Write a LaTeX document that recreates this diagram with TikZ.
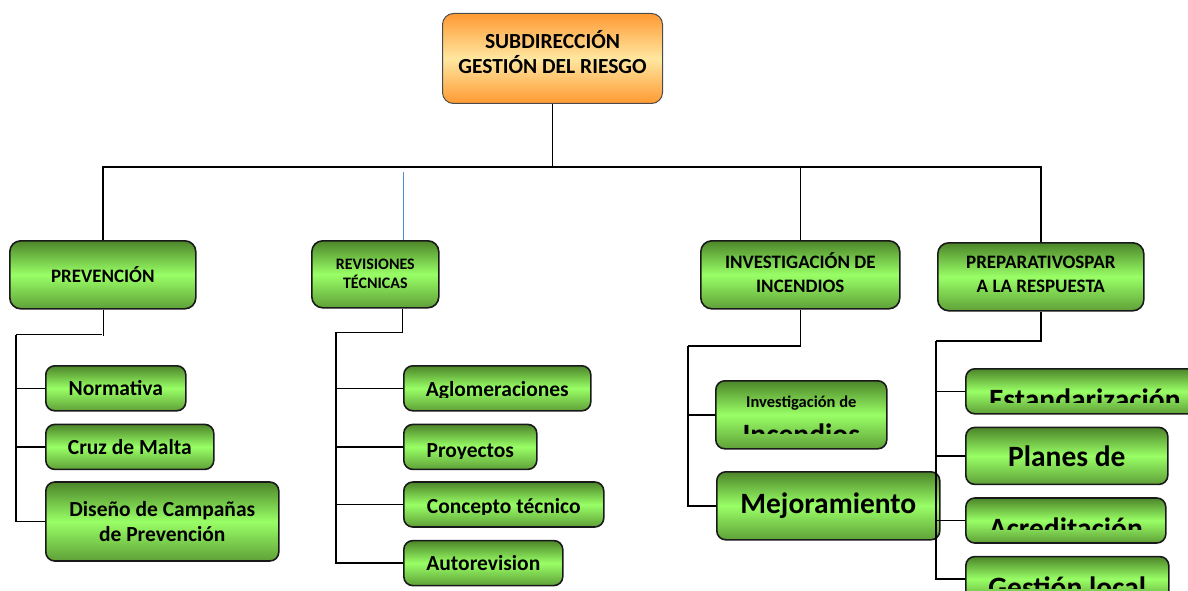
\documentclass[tikz,border=0pt]{standalone}
\usepackage{fontspec}
\setmainfont{Carlito}
\usetikzlibrary{positioning}
\definecolor{gdark}{HTML}{4C8529}
\definecolor{glight}{HTML}{99FF66}
\definecolor{gbot}{HTML}{5FA038}
\definecolor{odark}{HTML}{FF9A33}
\definecolor{olight}{HTML}{FFE7A0}
\definecolor{bluelink}{HTML}{4A90D9}

\begin{document}
\begin{tikzpicture}[x=1pt, y=-1pt,
  box/.style={draw=black!90, line width=1.6pt, rounded corners=11pt, top color=gdark, bottom color=gbot, middle color=glight, align=center, inner sep=0pt, anchor=north west},
  chief/.style={box, draw=black!70, line width=1pt, top color=odark, bottom color=odark, middle color=olight, minimum width=220pt, minimum height=90pt, font=\bfseries\fontsize{21.5}{25}\selectfont},
  head/.style={box, minimum height=68pt, font=\bfseries\fontsize{19}{24}\selectfont},
  leaf/.style={box, minimum height=45pt, rounded corners=9pt, font=\bfseries\fontsize{21.5}{25}\selectfont},
  big/.style={font=\bfseries\fontsize{29.5}{34}\selectfont},
  cut/.style n args={4}{path picture={
    \clip[sharp corners] (path picture bounding box.north west) rectangle ([yshift=#1pt]path picture bounding box.south east);
    \node[draw=none, inner sep=0pt, anchor=base, text=black, font=\bfseries\fontsize{#3}{#3}\selectfont] at ([yshift=#2pt]path picture bounding box.south) {#4};}},
  wire/.style={line width=1.6pt},
  twin/.style={line width=0.8pt, double, double distance=0.8pt},
  link/.style={bluelink, line width=0.8pt}]
  \clip (0,0) rectangle (1188,591);
  % top of the chart
  \node[chief] (top) at (442,13) {SUBDIRECCIÓN\\GESTIÓN DEL RIESGO\rule[-14pt]{0pt}{0pt}};
  \node[head, minimum width=186pt] (prev) at (9,240) {PREVENCIÓN};
  \node[head, minimum width=127pt, minimum height=67pt, font=\bfseries\fontsize{16}{19}\selectfont] (revis) at (311,240) {REVISIONES\\TÉCNICAS};
  \node[head, minimum width=199pt] (inves) at (700,240) {INVESTIGACIÓN DE\\INCENDIOS\rule[-5pt]{0pt}{0pt}};
  \node[head, minimum width=206pt] (prep) at (937,242) {PREPARATIVOSPAR\\A LA RESPUESTA\rule[-5pt]{0pt}{0pt}};
  % prevencion
  \node[leaf, minimum width=140pt] (norm) at (45,365) {Normativa};
  \node[leaf, minimum width=168pt, below=12pt of norm.south west, anchor=north west] (cruz) {Cruz de Malta};
  \node[leaf, minimum width=233pt, minimum height=79pt, below=11pt of cruz.south west, anchor=north west] (camp) {Diseño de Campañas\\de Prevención};
  % revisiones
  \node[leaf, minimum width=187pt, cut={13}{14}{21.5}{Aglomeraciones}] (aglo) at (403,365) {};
  \node[leaf, minimum width=133pt, cut={11}{12}{21.5}{Proyectos}, below=12pt of aglo.south west, anchor=north west] (proy) {};
  \node[leaf, minimum width=200pt, cut={13}{14}{21.5}{Concepto técnico}, below=11pt of proy.south west, anchor=north west] (conc) {};
  \node[leaf, minimum width=159pt, below=12pt of conc.south west, anchor=north west] (auto) {Autorevision};
  % investigacion
  \node[leaf, minimum width=171pt, minimum height=68pt, cut={15}{4}{29.5}{\begin{tabular}[b]{@{}c@{}}{\fontsize{16.5}{16.5}\selectfont Investigación de}\\[8pt]Incendios\end{tabular}}] (invi) at (715,380) {};
  \node[leaf, big, minimum width=223pt, minimum height=68pt] (mejo) at (716,471) {Mejoramiento};
  % preparativos
  \node[leaf, minimum width=238pt, cut={11}{4}{29.5}{Estandarización}] (esta) at (965,368) {};
  \node[leaf, big, minimum width=202pt, minimum height=57pt, below=12pt of esta.south west, anchor=north west] (plan) {Planes de};
  \node[leaf, minimum width=200pt, cut={14}{5}{29.5}{Acreditación}, below=12pt of plan.south west, anchor=north west] (acre) {};
  \node[leaf, minimum width=203pt, cut={13}{4}{29.5}{Gestión local}, below=12pt of acre.south west, anchor=north west] (gest) {};
  % connectors
  \coordinate (hub) at (555,167);
  \coordinate (rtap) at (403,172);
  \draw[wire] (top.south) -- (top.south |- hub);
  \draw[wire] (prev.north) |- (prep.north |- hub) -- (prep.north);
  \draw[wire] (inves.north) -- (inves.north |- hub);
  \draw[link] (rtap) -- (rtap |- revis.north);
  \coordinate (pspine) at (16,335);
  \draw[twin] (prev.south) |- (pspine);
  \foreach \c in {norm,cruz,camp}
    \draw[wire, line width=1.3pt] (pspine) |- (\c.west);
  \coordinate (rspine) at (336,333);
  \draw[twin] (rtap |- revis.south) |- (rspine) -- (rspine |- aglo.west);
  \foreach \c in {aglo,proy,conc,auto}
    \draw[wire, line width=1.3pt] (rspine) |- (\c.west);
  \coordinate (ispine) at (688,346);
  \draw[wire] (inves.south) |- (ispine);
  \foreach \c in {invi,mejo}
    \draw[wire] (ispine) |- (\c.west);
  \coordinate (qspine) at (936,341);
  \draw[wire] (prep.south) |- (qspine);
  \foreach \c in {esta,plan,acre,gest}
    \draw[wire, line width=1.3pt] (qspine) |- (\c.west);
\end{tikzpicture}
\end{document}
